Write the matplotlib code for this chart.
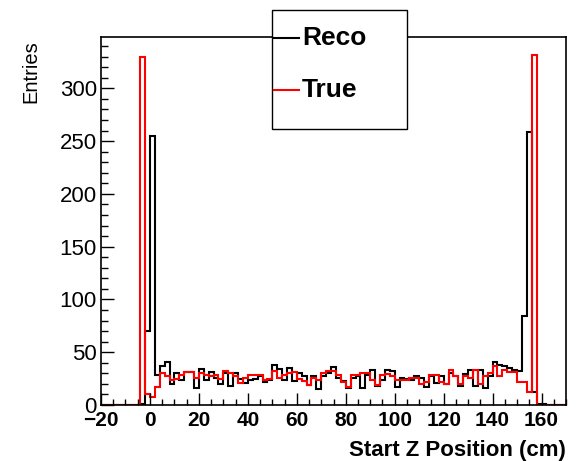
import matplotlib
matplotlib.use("Agg")
import matplotlib.pyplot as plt
import numpy as np
from matplotlib.lines import Line2D
from matplotlib.patches import Rectangle
from matplotlib.ticker import MultipleLocator

plt.rcParams['font.family'] = ['Liberation Sans', 'DejaVu Sans']

# binning: 95 bins of 2 cm from -20 to 170
x_lo, x_hi, bin_w = -20, 170, 2
edges = np.arange(x_lo, x_hi + bin_w, bin_w)

# Reco start z (black), bins from -20 upward
reco_counts = ([0] * 8 + [1, 70, 255] +
               [28, 37, 41, 20, 30, 24, 31, 31, 16, 34, 24, 31, 26, 20, 30,
                18, 30, 25, 21, 24, 25, 27, 22, 24, 38, 34, 24, 35, 23, 30,
                27, 19, 27, 15, 27, 30, 36, 26, 23, 16, 26, 27, 16, 28, 33,
                18, 24, 33, 32, 17, 26, 25, 24, 27, 26, 17, 27, 21, 27, 20,
                30, 27, 18, 29, 33, 18, 33, 16, 27, 41, 38, 37, 35, 33, 32] +
               [84, 259, 12, 1, 1] + [0] * 4)

# True start z (red)
true_counts = ([0] * 8 + [330] +
               [10, 8, 17, 30, 27, 24, 25, 28, 31, 31, 26, 30, 28, 27, 28,
                25, 32, 30, 27, 21, 26, 28, 28, 28, 24, 25, 32, 26, 28, 30,
                31, 25, 23, 19, 26, 24, 30, 32, 32, 28, 22, 17, 28, 28, 30,
                30, 24, 19, 28, 29, 27, 24, 24, 24, 26, 26, 20, 22, 28, 28,
                22, 20, 33, 27, 20, 27, 26, 33, 20, 27, 30, 37, 27, 33, 31,
                31, 22, 22, 12] +
               [332] + [0] * 6)

fig = plt.figure(figsize=(5.79, 4.61), dpi=100)
ax = fig.add_axes([101 / 579, 1 - 405 / 461, 465 / 579, 368 / 461])

ax.stairs(reco_counts, edges, color='black', lw=1.5)
ax.stairs(true_counts, edges, color='red', lw=1.5)

ax.set_xlim(x_lo, x_hi)
ax.set_ylim(0, 1.05 * max(true_counts))

ax.xaxis.set_major_locator(MultipleLocator(20))
ax.xaxis.set_minor_locator(MultipleLocator(5))
ax.yaxis.set_major_locator(MultipleLocator(50))
ax.yaxis.set_minor_locator(MultipleLocator(10))
ax.tick_params(which='both', direction='in', top=False, right=False, width=1)
ax.tick_params(axis='x', which='major', length=8.5, pad=4, labelsize=15)
ax.tick_params(axis='x', which='minor', length=4.3)
ax.tick_params(axis='y', which='major', length=9.4, pad=3, labelsize=16)
ax.tick_params(axis='y', which='minor', length=4.8)
for lab in ax.get_xticklabels():
    lab.set_fontweight('bold')
for s in ax.spines.values():
    s.set_linewidth(1.2)

ax.set_xlabel('Start Z Position (cm)', fontsize=16, fontweight='bold', loc='right')
ax.xaxis.set_label_coords(1.0, -0.095)
ax.set_ylabel('Entries', fontsize=14.5, loc='top')
ax.yaxis.set_label_coords(-0.13, 0.99)

# legend box (ROOT style, overlapping the frame top)
fig.add_artist(Rectangle((272 / 579, 1 - 129 / 461), 135 / 579, 119 / 461,
                         transform=fig.transFigure, facecolor='white',
                         edgecolor='black', lw=1.0, zorder=5))
for name, col, ypx in [('Reco', 'black', 38), ('True', 'red', 90)]:
    yf = 1 - ypx / 461
    fig.add_artist(Line2D([274 / 579, 299 / 579], [yf, yf], color=col, lw=1.5,
                          transform=fig.transFigure, zorder=6))
    fig.text(302 / 579, yf, name, fontsize=19, fontweight='bold',
             va='center', ha='left', zorder=6)

fig.savefig('out.png', dpi=100)
